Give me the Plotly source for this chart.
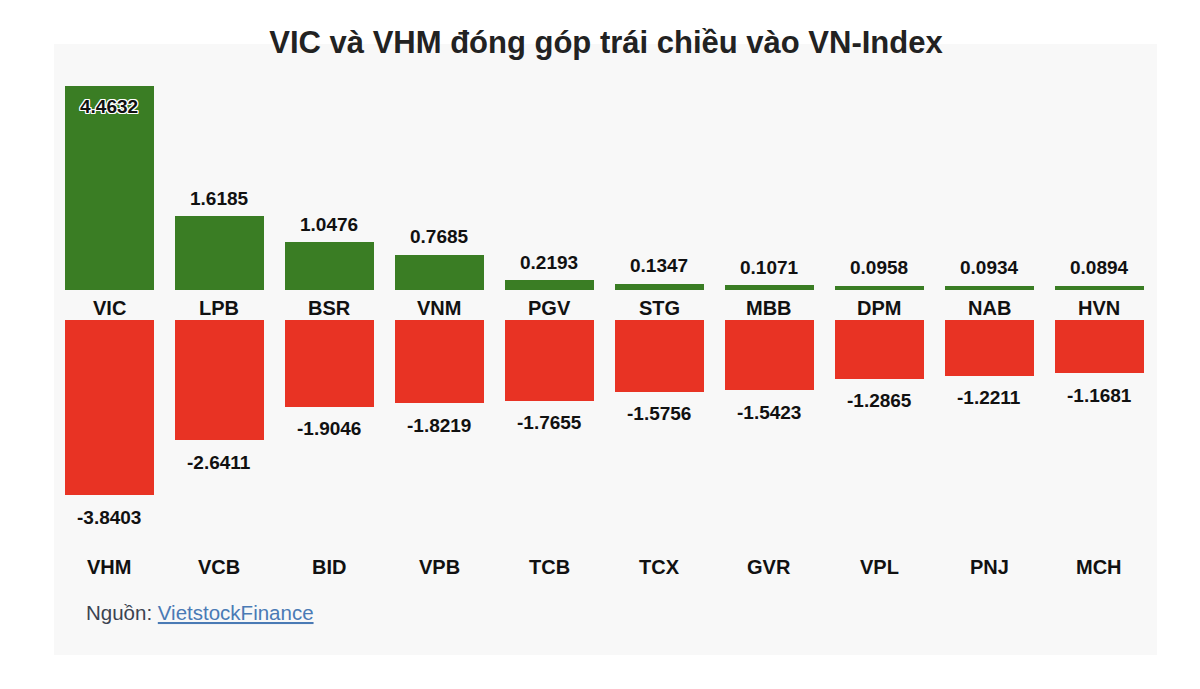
import plotly.graph_objects as go

top_cats = ["VIC", "LPB", "BSR", "VNM", "PGV", "STG", "MBB", "DPM", "NAB", "HVN"]
top_vals = [4.4632, 1.6185, 1.0476, 0.7685, 0.2193, 0.1347, 0.1071, 0.0958, 0.0934, 0.0894]
bot_cats = ["VHM", "VCB", "BID", "VPB", "TCB", "TCX", "GVR", "VPL", "PNJ", "MCH"]
bot_vals = [-3.8403, -2.6411, -1.9046, -1.8219, -1.7655, -1.5756, -1.5423, -1.2865, -1.2211, -1.1681]
title_text = "VIC và VHM đóng góp trái chiều vào VN-Index"

FONT = "Liberation Sans, Arial, Helvetica, sans-serif"
GREEN = "#3a7d24"
RED = "#e83324"
idx = list(range(len(top_cats)))

fig = go.Figure()
fig.add_trace(go.Bar(
    x=idx, y=top_vals, xaxis="x2", yaxis="y2",
    marker=dict(color=GREEN, line=dict(width=0)), width=0.81,
    hoverinfo="skip", showlegend=False,
))
fig.add_trace(go.Bar(
    x=idx, y=bot_vals, xaxis="x", yaxis="y",
    marker=dict(color=RED, line=dict(width=0)), width=0.81,
    hoverinfo="skip", showlegend=False,
))

# layout geometry (panel = plot area)
L, R, T, B = 54, 43, 44, 34
H = 689
ph = H - T - B
def f(py):
    return (H - B - py) / ph

scale = 45.6
y2_top_px, y2_zero_px = 60, 290
y_zero_px, y_bot_px = 320, 520
xr = [-0.5045, 9.523]

VAL_FONT = dict(family=FONT, size=19, color="#111", weight="bold")
CAT_FONT = dict(family=FONT, size=20, color="#111", weight="bold")
OUTLINE = ("1px 1px 0 #fff, -1px -1px 0 #fff, 1px -1px 0 #fff, -1px 1px 0 #fff, "
           "0 1px 0 #fff, 0 -1px 0 #fff, 1px 0 0 #fff, -1px 0 0 #fff")

annotations = []
for i, v in enumerate(top_vals):
    inside = (i == 0)
    font = dict(VAL_FONT)
    if inside:
        font["shadow"] = OUTLINE
    annotations.append(dict(x=i, y=v, xref="x2", yref="y2", text=f"{v:.4f}", showarrow=False,
                            xanchor="center", yanchor="middle",
                            yshift=-20 if inside else 18, font=font))
for i, v in enumerate(bot_vals):
    annotations.append(dict(x=i, y=v, xref="x", yref="y", text=f"{v:.4f}", showarrow=False,
                            xanchor="center", yanchor="middle", yshift=-22, font=VAL_FONT))
for i, c in enumerate(top_cats):
    annotations.append(dict(x=i, y=f(308), xref="x", yref="paper", text=c, showarrow=False,
                            xanchor="center", yanchor="middle", font=CAT_FONT))
for i, c in enumerate(bot_cats):
    annotations.append(dict(x=i, y=f(567), xref="x", yref="paper", text=c, showarrow=False,
                            xanchor="center", yanchor="middle", font=CAT_FONT))
annotations.append(dict(x=(84 - L) / (1200 - L - R), y=f(612), xref="paper", yref="paper",
                        text="Nguồn: <span style='color:#4a7ab5'><u>VietstockFinance</u></span>",
                        showarrow=False, xanchor="left", yanchor="middle",
                        font=dict(family=FONT, size=20.5, color="#3b4350")))

fig.update_layout(
    width=1200, height=689,
    margin=dict(l=L, r=R, t=T, b=B, pad=0),
    paper_bgcolor="white", plot_bgcolor="rgba(0,0,0,0)",
    shapes=[dict(type="rect", xref="paper", yref="paper", x0=0, x1=1, y0=0, y1=1,
                 fillcolor="#f8f8f8", line=dict(width=0), layer="below")],
    title=dict(text=title_text, x=606 / 1200, xref="container", xanchor="center",
               y=1 - 42 / H, yref="container", yanchor="middle",
               font=dict(family=FONT, size=31, color="#222", weight="bold")),
    xaxis=dict(range=xr, visible=False, domain=[0, 1], anchor="y", fixedrange=True),
    xaxis2=dict(range=xr, visible=False, domain=[0, 1], anchor="y2", fixedrange=True),
    yaxis=dict(domain=[f(y_bot_px), f(y_zero_px)],
               range=[-(y_bot_px - y_zero_px) / scale, 0], visible=False, fixedrange=True),
    yaxis2=dict(domain=[f(y2_zero_px), f(y2_top_px)],
                range=[0, (y2_zero_px - y2_top_px) / scale], visible=False, fixedrange=True),
    annotations=annotations,
    bargap=0,
)

fig.write_html("out.html")
